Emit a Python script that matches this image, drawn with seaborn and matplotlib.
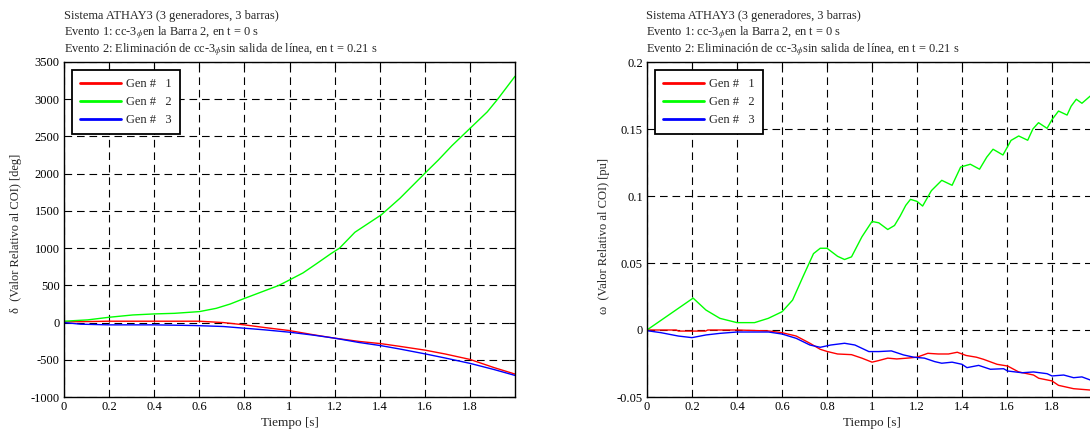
import matplotlib
matplotlib.use("Agg")
import matplotlib.pyplot as plt
import seaborn as sns
import pandas as pd

# --- rotor angle relative to COI [deg] ---
t_delta_g1 = [0.0, 0.2, 0.4, 0.6, 0.706, 0.8, 0.89, 0.998, 1.106, 1.199, 1.307, 1.407,
              1.49, 1.6, 1.69, 1.8, 1.907, 2.0]
delta_g1 = [9, 18, 18, 18, 0, -31, -67, -107, -164, -209, -253, -284,
            -320, -370, -422, -495, -605, -692]

t_delta_g2 = [0.0, 0.105, 0.2, 0.305, 0.4, 0.49, 0.6, 0.675, 0.737, 0.8, 0.89, 0.952,
              0.998, 1.06, 1.12, 1.183, 1.222, 1.29, 1.407, 1.49, 1.6, 1.66, 1.72, 1.8,
              1.877, 1.923, 2.0]
delta_g2 = [18, 36, 71, 102, 116, 124, 147, 191, 249, 324, 427, 498,
            569, 667, 791, 924, 1000, 1213, 1447, 1670, 2004, 2183, 2375, 2607,
            2830, 3000, 3308]

t_delta_g3 = [0.0, 0.074, 0.2, 0.4, 0.58, 0.706, 0.8, 0.89, 0.998, 1.106, 1.199, 1.307,
              1.407, 1.49, 1.6, 1.69, 1.8, 1.907, 2.0]
delta_g3 = [0, -22, -31, -31, -40, -53, -76, -98, -129, -169, -209, -267,
            -311, -356, -420, -476, -548, -631, -710]

# --- rotor speed relative to COI [pu] ---
t_omega_g1 = [0.0, 0.13, 0.14, 0.26, 0.27, 0.4, 0.54, 0.6, 0.663, 0.724, 0.77, 0.8,
              0.847, 0.909, 0.955, 1.0, 1.03, 1.07, 1.11, 1.156, 1.2, 1.248, 1.294,
              1.34, 1.379, 1.418, 1.464, 1.496, 1.556, 1.603, 1.652, 1.718, 1.741,
              1.8, 1.829, 1.896, 1.97]
omega_g1 = [0.0, 0.0, -0.0008, -0.0008, 0.0, 0.0, -0.0007, -0.002, -0.0045, -0.0099,
            -0.0144, -0.016, -0.0179, -0.0184, -0.021, -0.024, -0.0228, -0.021,
            -0.0216, -0.021, -0.0203, -0.0174, -0.0179, -0.0179, -0.0166, -0.0190,
            -0.0203, -0.0219, -0.0256, -0.0269, -0.0313, -0.0336, -0.036, -0.038,
            -0.0413, -0.0438, -0.0448]

t_omega_g2 = [0.0, 0.205, 0.262, 0.324, 0.4, 0.478, 0.539, 0.6, 0.647, 0.693, 0.74,
              0.77, 0.8, 0.847, 0.878, 0.909, 0.955, 1.0, 1.03, 1.07, 1.10, 1.125,
              1.15, 1.171, 1.20, 1.225, 1.264, 1.31, 1.356, 1.394, 1.437, 1.478,
              1.51, 1.538, 1.582, 1.618, 1.652, 1.692, 1.715, 1.740, 1.778, 1.80,
              1.829, 1.867, 1.885, 1.908, 1.933, 1.97]
omega_g2 = [0.0, 0.0238, 0.0149, 0.0087, 0.0055, 0.0055, 0.0087, 0.0136, 0.0223,
            0.0397, 0.057, 0.061, 0.061, 0.055, 0.0526, 0.0546, 0.0695, 0.081,
            0.080, 0.075, 0.078, 0.085, 0.093, 0.0975, 0.096, 0.0925, 0.104,
            0.1117, 0.108, 0.1216, 0.1237, 0.120, 0.129, 0.1349, 0.1306, 0.1415,
            0.1448, 0.1416, 0.150, 0.1547, 0.1505, 0.157, 0.1634, 0.1604, 0.167,
            0.1722, 0.1692, 0.1746]

t_omega_g3 = [0.0, 0.062, 0.139, 0.2, 0.262, 0.324, 0.4, 0.478, 0.54, 0.6, 0.663,
              0.724, 0.77, 0.817, 0.878, 0.924, 0.986, 1.03, 1.086, 1.14, 1.186,
              1.233, 1.279, 1.31, 1.356, 1.4, 1.422, 1.474, 1.526, 1.585, 1.603,
              1.667, 1.718, 1.778, 1.8, 1.852, 1.896, 1.933, 1.97]
omega_g3 = [-0.0005, -0.002, -0.0045, -0.0057, -0.0037, -0.0025, -0.0015, -0.0015,
            -0.0015, -0.003, -0.0062, -0.0112, -0.0129, -0.0112, -0.0099, -0.0112,
            -0.0161, -0.0161, -0.0156, -0.0186, -0.0203, -0.021, -0.0236, -0.0248,
            -0.024, -0.0256, -0.0281, -0.0264, -0.0293, -0.0289, -0.0306, -0.0319,
            -0.0313, -0.0326, -0.0343, -0.0336, -0.0356, -0.035, -0.0373]

gen_labels = ["Gen #   1", "Gen #   2", "Gen #   3"]
gen_colors = ["#ff0000", "#00ff00", "#0000ff"]

x_ticks = [0, 0.2, 0.4, 0.6, 0.8, 1.0, 1.2, 1.4, 1.6, 1.8]
x_ticklabels = ["0", "0.2", "0.4", "0.6", "0.8", "1", "1.2", "1.4", "1.6", "1.8"]
delta_ticks = [-1000, -500, 0, 500, 1000, 1500, 2000, 2500, 3000, 3500]
omega_ticks = [-0.05, 0, 0.05, 0.1, 0.15, 0.2]
omega_ticklabels = ["-0.05", "0", "0.05", "0.1", "0.15", "0.2"]

title_lines = [
    "Sistema ATHAY3 (3 generadores, 3 barras)",
    r"Evento 1: cc-3$_{\phi}$en la Barra 2, en t = 0 s",
    r"Evento 2: Eliminación de cc-3$_{\phi}$sin salida de línea, en t = 0.21 s",
]

sns.set_style("white")
plt.rcParams["font.family"] = ["Liberation Serif", "DejaVu Serif"]
plt.rcParams["mathtext.fontset"] = "stix"
plt.rcParams["lines.scale_dashes"] = False

W, H = 1090, 432
fig = plt.figure(figsize=(W / 100, H / 100), dpi=100)


def px_axes(left, right, top, bottom):
    return fig.add_axes([left / W, 1 - bottom / H, (right - left) / W, (bottom - top) / H])


ax1 = px_axes(64, 515, 62, 397)
ax2 = px_axes(647, 1097, 62, 397)


def draw_series(series, ax):
    for (t, v), lab, col in zip(series, gen_labels, gen_colors):
        d = pd.DataFrame({"t": t, "v": v})
        sns.lineplot(data=d, x="t", y="v", ax=ax, color=col, linewidth=1.0,
                     label=lab, sort=False, estimator=None)


draw_series([(t_delta_g1, delta_g1), (t_delta_g2, delta_g2), (t_delta_g3, delta_g3)], ax1)
draw_series([(t_omega_g1, omega_g1), (t_omega_g2, omega_g2), (t_omega_g3, omega_g3)], ax2)

ax1.set_ylim(-1000, 3500)
ax1.set_yticks(delta_ticks)
ax1.set_yticklabels([str(v) for v in delta_ticks])
ax2.set_ylim(-0.05, 0.2)
ax2.set_yticks(omega_ticks)
ax2.set_yticklabels(omega_ticklabels)

for ax in (ax1, ax2):
    ax.set_xlim(0, 2.0)
    ax.set_xticks(x_ticks)
    ax.set_xticklabels(x_ticklabels)
    ax.set_xlabel("Tiempo [s]", fontsize=9.5, labelpad=3)
    ax.set_ylabel("")
    ax.grid(True, color="black", linewidth=0.8, linestyle=(0, (5.5, 3.5)))
    ax.set_axisbelow(True)
    for s in ax.spines.values():
        s.set_color("black")
        s.set_linewidth(1.0)
        s.set_visible(True)
    ax.tick_params(direction="in", length=4, width=0.8, labelsize=9, colors="black",
                   top=True, right=True, pad=3)
    leg = ax.legend(loc="upper left", bbox_to_anchor=(0.018, 0.975), borderaxespad=0,
                    fontsize=9, frameon=True, fancybox=False, framealpha=1,
                    edgecolor="black", handlelength=3.3, handletextpad=0.45,
                    borderpad=0.6, labelspacing=0.5)
    leg.get_frame().set_linewidth(1.3)
    for ln in leg.get_lines():
        ln.set_linewidth(2.0)

for x0 in (64, 646):
    for y, line in zip((16, 32.5, 49), title_lines):
        fig.text(x0 / W, 1 - y / H, line, fontsize=8.9, ha="left", va="center")

fig.text(16 / W, 1 - 233 / H, "δ  (Valor Relativo al COI) [deg]", rotation=90,
         fontsize=9, ha="center", va="center")
fig.text(604 / W, 1 - 236 / H, "ω  (Valor Relativo al COI) [pu]", rotation=90,
         fontsize=9, ha="center", va="center")

fig.savefig("out.png", dpi=100)
